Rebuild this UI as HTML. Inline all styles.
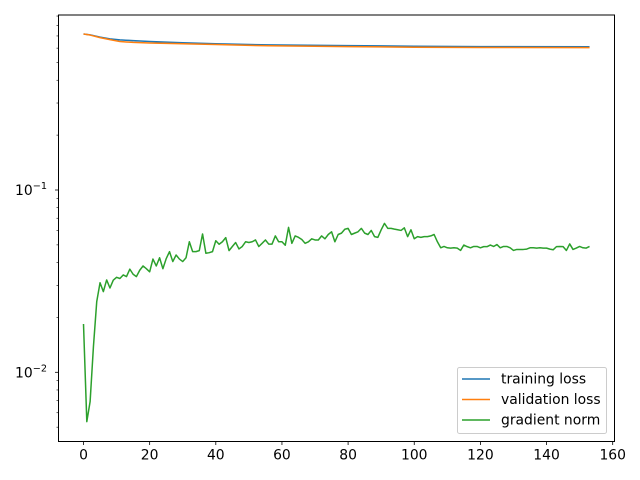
<!DOCTYPE html>
<html><head><meta charset="utf-8"><style>
body{margin:0;background:#fff;}
svg{display:block;font-family:"DejaVu Sans","Liberation Sans",sans-serif;}
</style></head><body>
<svg id="chart" width="640" height="480" xmlns="http://www.w3.org/2000/svg">
<rect width="640" height="480" fill="#fff"/>
<g id="plot"></g>
</svg>
<script>
const xTicks=[0,20,40,60,80,100,120,140,160];
const yMajor=[-1,-2];
const trainEpochs=[0,2,5,8,11,15,20,30,40,56,80,100,120,153];
const trainLoss=[0.717,0.71,0.69,0.675,0.666,0.66,0.653,0.642,0.634,0.625,0.619,0.615,0.612,0.611];
const valEpochs=[0,2,5,8,11,15,20,30,40,56,80,100,120,153];
const valLoss=[0.717,0.708,0.685,0.668,0.652,0.645,0.64,0.634,0.628,0.618,0.612,0.607,0.605,0.604];
const gradNorm=[0.0184,0.00536,0.0069,0.0138,0.0244,0.031,0.0277,0.0321,0.029,0.032,0.0332,0.0327,0.0342,0.0335,0.0368,0.0345,0.0335,0.0363,0.0383,0.037,
0.0356,0.0418,0.0383,0.0425,0.037,0.042,0.0459,0.0405,0.044,0.0418,0.0405,0.0425,0.052,0.0459,0.0459,0.0465,0.0574,0.045,0.0453,0.0459,
0.0527,0.0504,0.052,0.0548,0.0465,0.049,0.0515,0.0475,0.049,0.052,0.0515,0.052,0.0532,0.049,0.051,0.0532,0.0505,0.0505,0.056,0.052,
0.052,0.0498,0.0624,0.051,0.056,0.055,0.0535,0.051,0.052,0.054,0.0532,0.0532,0.056,0.054,0.057,0.059,0.052,0.057,0.058,0.0609,
0.0616,0.057,0.058,0.059,0.0616,0.058,0.057,0.06,0.0555,0.055,0.0605,0.0656,0.0616,0.0616,0.061,0.0605,0.06,0.062,0.0555,0.0605,
0.054,0.0555,0.055,0.0555,0.0555,0.056,0.057,0.052,0.0482,0.049,0.0482,0.048,0.0482,0.048,0.0466,0.0499,0.0489,0.0482,0.049,0.049,
0.0482,0.0489,0.0489,0.0499,0.049,0.0502,0.0482,0.049,0.049,0.0482,0.0466,0.0472,0.0472,0.0472,0.0474,0.0482,0.0482,0.048,0.0482,0.048,
0.048,0.0474,0.047,0.0489,0.049,0.0489,0.0466,0.0506,0.0472,0.048,0.049,0.0482,0.048,0.049];
const L=58.5,R=614.5,T=15,B=441.5;
const X0=83.5,XS=3.3075,Y1=190,DEC=182.3;
const sx=v=>X0+v*XS;
const sy=v=>Y1-(Math.log10(v)+1)*DEC;
const NS="http://www.w3.org/2000/svg";
const g=document.getElementById('plot');
function mk(tag,attrs,parent){const e=document.createElementNS(NS,tag);for(const k in attrs)e.setAttribute(k,attrs[k]);(parent||g).appendChild(e);return e;}
function pts(xs,ys){return xs.map((x,i)=>sx(x).toFixed(2)+','+sy(ys[i]).toFixed(2)).join(' ');}
const series=[
 {name:'training-loss-line',xs:trainEpochs,ys:trainLoss,c:'#1f77b4'},
 {name:'validation-loss-line',xs:valEpochs,ys:valLoss,c:'#ff7f0e'},
 {name:'gradient-norm-line',xs:gradNorm.map((_,i)=>i),ys:gradNorm,c:'#2ca02c'}];
series.forEach(s=>{const p=mk('polyline',{points:pts(s.xs,s.ys),fill:'none',stroke:s.c,'stroke-width':1.5,'stroke-linejoin':'round'});

});
const frame=mk('rect',{x:L,y:T,width:R-L,height:B-T,fill:'none',stroke:'#000','stroke-width':1});


xTicks.forEach(t=>{const x=sx(t);mk('line',{x1:x,x2:x,y1:B,y2:B+3.5,stroke:'#000','stroke-width':0.8});
const tx=mk('text',{x:x,y:B+18,'font-size':'13.9','text-anchor':'middle',fill:'#000'});tx.textContent=t;

});
for(let d=-3;d<=0;d++){for(let m=1;m<10;m++){const v=m*Math.pow(10,d);const y=sy(v);if(y<T||y>B)continue;
mk('line',{x1:L,x2:L-(m===1?3.5:2),y1:y,y2:y,stroke:'#000','stroke-width':m===1?0.8:0.6});}}
yMajor.forEach(e=>{const y=sy(Math.pow(10,e));const tx=mk('text',{x:47,y:y+5,'font-size':'13.9','text-anchor':'end',fill:'#000'});
tx.innerHTML='10<tspan dy="-6" font-size="9.7">\u2212'+(-e)+'</tspan>';

});
const lg=mk('g',{});


mk('rect',{x:457.5,y:367.5,width:149,height:66,rx:2,fill:'#fff','fill-opacity':0.8,stroke:'#ccc'},lg);
[['training loss','#1f77b4'],['validation loss','#ff7f0e'],['gradient norm','#2ca02c']].forEach((e,i)=>{const y=379+i*20.5;
const le=mk('g',{},lg);


mk('line',{x1:462,x2:490,y1:y,y2:y,stroke:e[1],'stroke-width':1.5},le);
const t=mk('text',{x:501,y:y+4.5,'font-size':'13.9',fill:'#000'},le);t.textContent=e[0];});
</script>
</body></html>
